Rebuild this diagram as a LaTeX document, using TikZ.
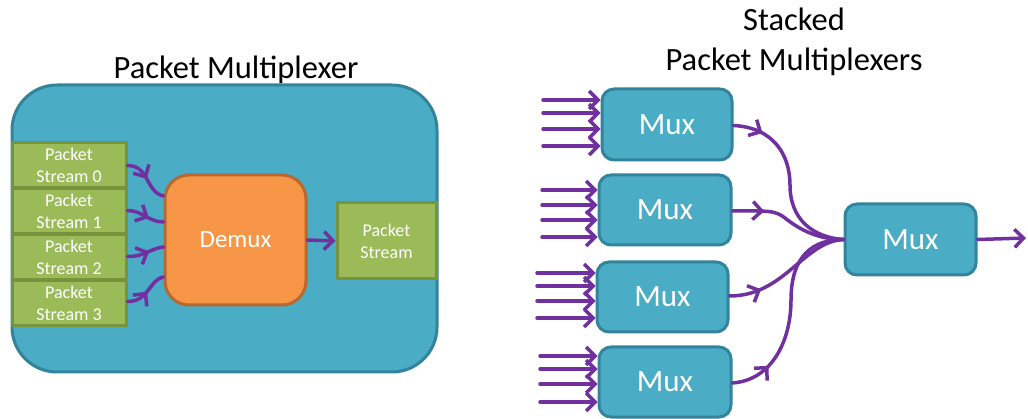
\documentclass[tikz,border=0pt]{standalone}
\usepackage{fontspec}
\setmainfont{Carlito}
\usetikzlibrary{arrows.meta,decorations.markings,calc}
\definecolor{teal}{HTML}{4BACC6}
\definecolor{tealdk}{HTML}{31849B}
\definecolor{grn}{HTML}{9BBB59}
\definecolor{grndk}{HTML}{77933C}
\definecolor{org}{HTML}{F79646}
\definecolor{orgdk}{HTML}{B7692F}
\definecolor{purp}{HTML}{7030A0}
\tikzset{
  barb/.tip={Straight Barb[length=9pt,width=18pt,line width=3.5pt]},
  wire/.style={draw=purp,line width=3.5pt,line cap=round},
  inwire/.style={wire,-barb},
  midarrow/.style={wire,postaction={decorate},decoration={markings,mark=at position #1 with {\arrow{barb}}}},
  bigbox/.style={draw=tealdk,fill=teal,line width=3pt,rounded corners=45pt,minimum width=425pt,minimum height=287pt},
  gbox/.style={draw=grndk,fill=grn,line width=3pt,text=white,minimum width=114pt,minimum height=45pt,align=center,font=\fontsize{18}{22}\selectfont,inner sep=0pt},
  dbox/.style={draw=orgdk,fill=org,line width=3pt,rounded corners=24pt,text=white,minimum width=141pt,minimum height=130pt,font=\fontsize{25}{28}\selectfont},
  muxbox/.style={draw=tealdk,fill=teal,line width=3pt,rounded corners=12pt,text=white,minimum width=131pt,minimum height=70pt,font=\fontsize{31}{32}\selectfont},
  title/.style={font=\fontsize{32.5}{40}\selectfont,align=center,text=black}
}
\begin{document}
\begin{tikzpicture}[x=1pt,y=-1pt]
\useasboundingbox (0,0) rectangle (1028,419);
% left
\node[title] (t1) at (236,70) {Packet Multiplexer};
\node[bigbox] (bg) at (224.5,228.5) {};
\node[gbox] (g0) at (69,165.5) {Packet\\Stream 0};
\node[gbox] (g1) at (69,211.5) {Packet\\Stream 1};
\node[gbox] (g2) at (69,257.5) {Packet\\Stream 2};
\node[gbox] (g3) at (69,303.5) {Packet\\Stream 3};
\node[dbox] (demux) at (235.5,240) {Demux};
\node[gbox,minimum width=99pt,minimum height=76pt] (ps) at (386.5,241) {Packet\\Stream};
\draw[midarrow=0.5] (g0.east) .. controls +(22,0) and +(-18,-4) .. ([shift={(0,-44)}]demux.west);
\draw[midarrow=0.6] ([shift={(0,-1)}]g1.east) .. controls +(15,0) and +(-15,0) .. ([shift={(0,-18)}]demux.west);
\draw[midarrow=0.6] ([shift={(0,-1)}]g2.east) .. controls +(18,0) and +(-15,2) .. ([shift={(0,7)}]demux.west);
\draw[midarrow=0.5] ([shift={(0,-2)}]g3.east) .. controls +(22,0) and +(-15,3) .. ([shift={(0,37)}]demux.west);
\draw[wire,-barb] (demux.east) -- (ps.west);
% right
\node[title] (t2) at (794,42) {Stacked\\Packet Multiplexers};
\node[muxbox,minimum width=130pt,minimum height=71pt] (m1) at (667,124.5) {Mux};
\node[muxbox,minimum width=132pt] (m2) at (665,210) {Mux};
\node[muxbox] (m3) at (662.5,297) {Mux};
\node[muxbox,minimum width=132pt] (m4) at (665,382) {Mux};
\node[muxbox,minimum height=71pt] (M) at (910.5,239.5) {Mux};
\foreach \n/\x/\ya/\yb/\yc/\yd in {m1/543/100/113/129/146, m2/542/190/205/220/237, m3/537/273/286/301/318, m4/540/356/369/384/402}{
  \foreach \y [count=\k] in {\ya,\yb,\yc,\yd}{
    \coordinate (\n in\k) at (\x,\y);
    \draw[inwire] (\n in\k) -- (\n.west |- \n in\k);
  }
}
\draw[midarrow=0.17] ([shift={(0,1)}]m1.east) .. controls +(40,2) and +(0,-30) .. (790,185) .. controls +(0,35) and +(-30,-2) .. (M.west);
\draw[midarrow=0.27] ([shift={(0,1)}]m2.east) .. controls +(35,0) and +(-10,-8) .. (785,218) .. controls +(15,12) and +(-25,0) .. (M.west);
\draw[midarrow=0.25] ([shift={(0,-1)}]m3.east) .. controls +(55,0) and +(-40,2) .. (M.west);
\draw[midarrow=0.2] ([shift={(0,1)}]m4.east) .. controls +(40,-3) and +(0,40) .. (791,300) .. controls +(0,-45) and +(-30,0) .. (M.west);
\coordinate (out) at (1026,238);
\draw[wire,-barb] (M.east) -- (out);
\end{tikzpicture}
\end{document}
